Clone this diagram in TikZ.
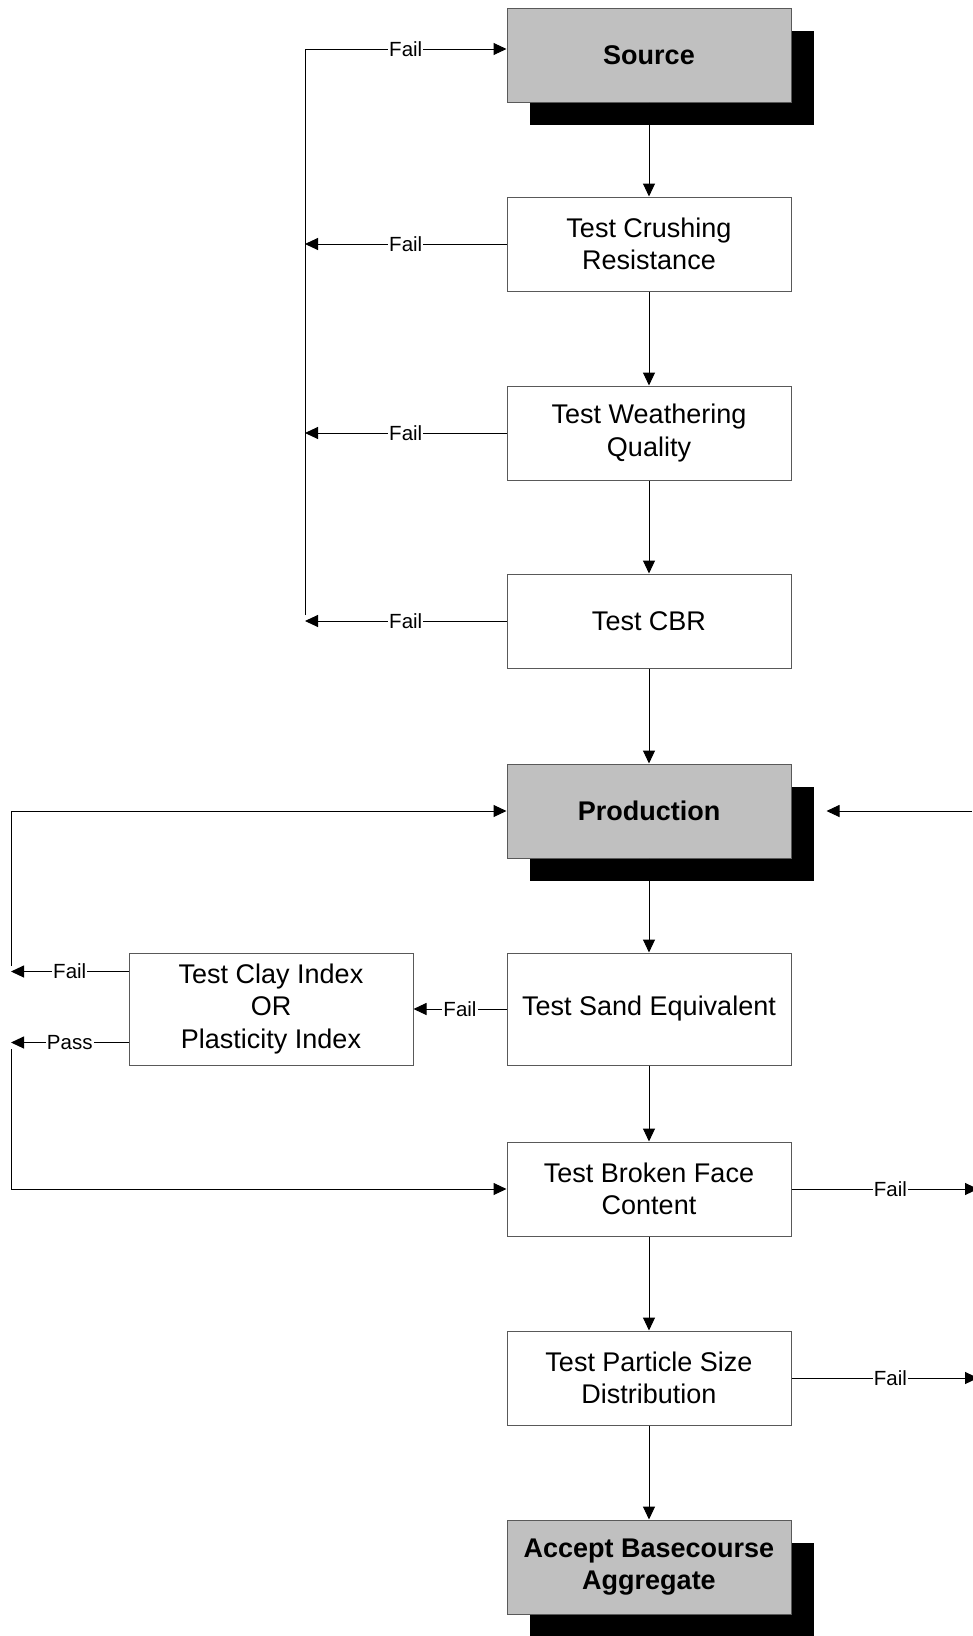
\documentclass[tikz,border=0pt]{standalone}
\usepackage{fontspec}
\setmainfont{Liberation Sans}
\usetikzlibrary{arrows.meta,shadows}
\begin{document}
\begin{tikzpicture}[x=1pt,y=-1pt,
  box/.style={draw=black!65,line width=1pt,minimum width=284pt,minimum height=94pt,inner sep=0pt,align=center,
    font=\fontsize{27}{32.4}\selectfont,fill=white},
  keybox/.style={box,fill=gray!50!white,font=\fontsize{27}{32.4}\selectfont\bfseries,
    drop shadow={shadow xshift=23pt,shadow yshift=-23pt,fill=black,opacity=1}},
  arr/.style={draw=black,line width=1pt,-{Triangle[length=13pt,width=12pt]}},
  ln/.style={draw=black,line width=1pt},
  lbl/.style={fill=white,inner sep=1pt,font=\fontsize{20.5}{24}\selectfont}
]
\useasboundingbox (0,0) rectangle (972,1636);
\definecolor{silverc}{HTML}{C0C0C0}
\tikzset{keybox/.append style={fill=silverc}}
% nodes
\node[keybox] (src) at (649,55) {Source};
\node[box] (crush) at (649,244) {Test Crushing\\Resistance};
\node[box] (weath) at (649,433) {Test Weathering\\Quality};
\node[box] (cbr) at (649,621) {Test CBR};
\node[keybox] (prod) at (649,811) {Production};
\node[box,minimum height=112pt] (sand) at (649,1009) {Test Sand Equivalent};
\node[box,minimum height=112pt] (clay) at (271,1009) {Test Clay Index\\OR\\Plasticity Index};
\node[box] (broken) at (649,1189) {Test Broken Face\\Content};
\node[box] (psd) at (649,1378) {Test Particle Size\\Distribution};
\node[keybox] (acc) at (649,1567) {Accept Basecourse\\Aggregate};
% helper coordinates
\coordinate (lbot) at (305,615);
\coordinate (ltop) at (305,49);
\coordinate (pfail) at (11,966);
\coordinate (ppass) at (11,1049);
\coordinate (redge) at (972,811);
% main flow
\draw[arr] (src) -- (crush);
\draw[arr] (crush) -- (weath);
\draw[arr] (weath) -- (cbr);
\draw[arr] (cbr) -- (prod);
\draw[arr] (prod) -- (sand);
\draw[arr] (sand) -- (broken);
\draw[arr] (broken) -- (psd);
\draw[arr] (psd) -- (acc);
% upper fail loop
\draw[ln] (lbot) -- (ltop);
\draw[arr] (ltop) -- node[lbl]{Fail} (ltop -| src.west);
\draw[arr] (crush.west) -- node[lbl]{Fail} (crush.west -| ltop);
\draw[arr] (weath.west) -- node[lbl]{Fail} (weath.west -| ltop);
\draw[arr] (cbr.west) -- node[lbl]{Fail} (cbr.west -| ltop);
% production loops
\draw[arr] (pfail) |- (prod.west);
\draw[arr] (sand.west) -- node[lbl]{Fail} (clay.east);
\draw[arr] ([yshift=-19pt]clay.north west) -- node[lbl]{Fail} ([yshift=-19pt]clay.north west -| pfail);
\draw[arr] ([yshift=23pt]clay.south west) -- node[lbl]{Pass} ([yshift=23pt]clay.south west -| ppass);
\draw[arr] (ppass) |- (broken.west);
% right side
\draw[arr] (redge) -- ([xshift=35pt]prod.east);
\draw[arr] (broken.east) -- node[lbl,pos=0.53]{Fail} ([xshift=6pt]broken.east -| redge);
\draw[arr] (psd.east) -- node[lbl,pos=0.53]{Fail} ([xshift=6pt]psd.east -| redge);
\end{tikzpicture}
\end{document}
